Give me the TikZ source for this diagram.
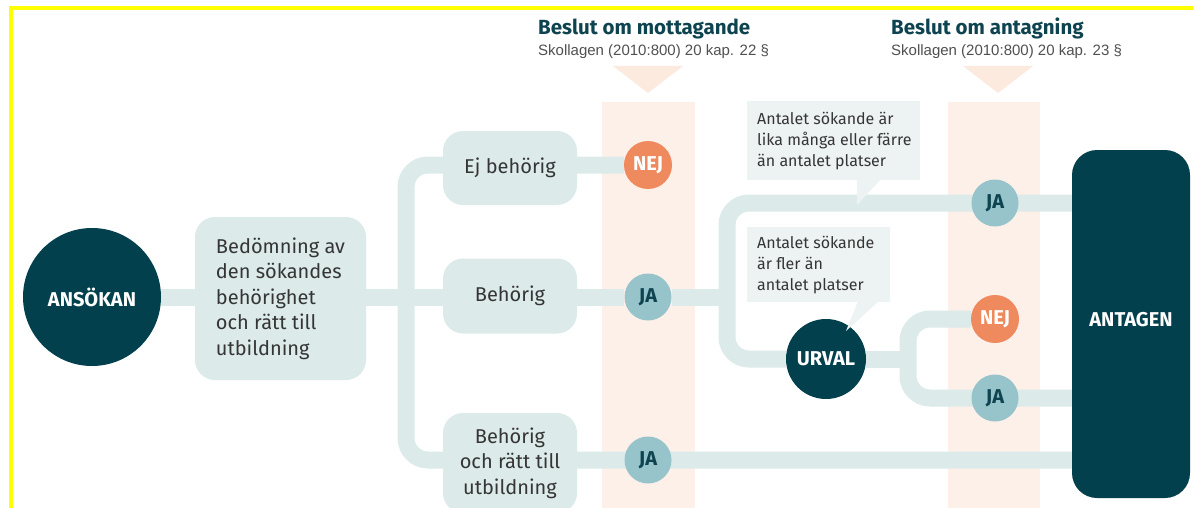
\documentclass[tikz,border=0pt]{standalone}
\usepackage{fontspec}
\setmainfont{Fira Sans}
\newfontfamily\subfont{Liberation Sans}
\usetikzlibrary{calc}
\pgfdeclarelayer{pinklayer}
\pgfdeclarelayer{linelayer}
\pgfsetlayers{pinklayer,linelayer,main}
\definecolor{dark}{HTML}{02404D}
\definecolor{lineblue}{HTML}{DCEAEA}
\definecolor{callout}{HTML}{EDF3F2}
\definecolor{pinkcol}{HTML}{FDF0E9}
\definecolor{pinktri}{HTML}{FCEADF}
\definecolor{nejc}{HTML}{EF8A5E}
\definecolor{jac}{HTML}{97C4CB}
\definecolor{txt}{HTML}{353535}
\definecolor{titlec}{HTML}{0E4350}
\definecolor{subc}{HTML}{505050}
\definecolor{border}{HTML}{FFFF00}
\tikzset{
  box/.style={fill=lineblue, rounded corners=20pt, text=txt, font=\fontsize{20}{25.5}\selectfont, align=center, inner sep=0pt},
  bedbox/.style={box, align=left},
  conn/.style={draw=lineblue, line width=17pt},
  loop/.style={conn, rounded corners=22pt},
  label/.style={circle, inner sep=0pt, font=\fontsize{20}{22}\selectfont\bfseries},
  nejnode/.style={label, fill=nejc, minimum size=48pt, text=white},
  janode/.style={label, fill=jac, minimum size=47pt, text=titlec},
  darknode/.style={label, fill=dark, text=white},
  callbox/.style={fill=callout, inner sep=0pt, anchor=north west},
  calltext/.style={text=txt, font=\fontsize{16}{21}\selectfont, align=left, inner sep=0pt, anchor=west},
  titlenode/.style={anchor=base west, inner sep=0pt, text=titlec, font=\fontsize{20.5}{22}\selectfont\bfseries},
  subnode/.style={anchor=base west, inner sep=0pt, text=subc, font=\subfont\fontsize{15}{16}\selectfont},
  column/.style={fill=pinkcol},
  marker/.style={fill=pinktri}
}
\begin{document}
\begin{tikzpicture}[x=1pt,y=-1pt]
\useasboundingbox (0,0) rectangle (1193,508);
\begin{pgfonlayer}{pinklayer}
  \fill[white] (0,0) rectangle (1193,508);
\end{pgfonlayer}

% titles
\node[titlenode] (t1) at (538,35) {Beslut om mottagande};
\node[subnode] (s1) at (538,56) {Skollagen (2010:800) 20 kap. 22 §};
\node[titlenode] (t2) at (891,35) {Beslut om antagning};
\node[subnode] (s2) at (891,56) {Skollagen (2010:800) 20 kap. 23 §};

% main nodes
\node[darknode, minimum size=138pt] (ans) at (92,297) {ANSÖKAN};
\node[bedbox, minimum width=171pt, minimum height=163pt] (bed) at (280.5,298.5) {Bedömning av\\den sökandes\\behörighet\\och rätt till\\utbildning};
\node[box, minimum width=134pt, minimum height=74pt] (ej) at (510,168) {Ej behörig};
\node[box, minimum width=134pt, minimum height=75pt] (beh) at (510,296) {Behörig};
\begin{scope}
\clip (0,0) rectangle (1193,508);
\node[box, minimum width=134pt, minimum height=100pt] (rat) at (510,463) {Behörig\\och rätt till\\utbildning};
\end{scope}

\node[nejnode] (nej1) at (648,165) {NEJ};
\node[janode] (ja2) at (648,297) {JA};
\node[janode] (ja3) at (648,460) {JA};
\node[janode] (ja4) at (995,203) {JA};
\node[nejnode] (nej2) at (995,319) {NEJ};
\node[janode] (ja5) at (995,398) {JA};

\node[darknode, minimum size=80pt] (urval) at (826,359) {URVAL};
\node[fill=dark, rounded corners=25pt, minimum width=118pt, minimum height=348pt, inner sep=0pt] (ant) at (1131,324) {};
\node[text=white, font=\fontsize{20}{22}\selectfont\bfseries, inner sep=0pt] (antl) at (1131,320) {ANTAGEN};

% callouts
\node[callbox, minimum width=173pt, minimum height=79pt] (c1) at (747,101) {};
\fill[callout] (857,179) -- (881,179) -- (857,205) -- cycle;
\node[calltext] (c1t) at ($(c1.west)+(10,0)$) {Antalet sökande är\\lika många eller färre\\än antalet platser};
\node[callbox, minimum width=143pt, minimum height=75pt] (c2) at (747,227) {};
\fill[callout] (858,301) -- (879,301) -- (846,331) -- cycle;
\node[calltext] (c2t) at ($(c2.west)+(10,0)$) {Antalet sökande\\är fler än\\antalet platser};

\coordinate (tr) at (406,297);
\coordinate (lx) at (727,297);
\coordinate (rx) at (908,359);

\begin{pgfonlayer}{pinklayer}
  \fill[column] (602,102) rectangle (695,508);
  \fill[column] (948,102) rectangle (1040,508);
  \fill[marker] (613,66) -- (683,66) -- (648,93) -- cycle;
  \fill[marker] (963,66) -- (1033,66) -- (998,93) -- cycle;
\end{pgfonlayer}

\begin{pgfonlayer}{linelayer}
  \draw[conn] (ans) -- (ja2);
  \draw[loop] (nej1) -| (tr) |- (ja3.center) -- (ja3 -| ant.west);
  \draw[conn] (ja2) -- (lx);
  \draw[loop] (urval) -| (lx) |- (ja4.center) -- (ja4 -| ant.west);
  \draw[conn] (urval) -- (rx);
  \draw[loop] (nej2) -| (rx) |- (ja5.center) -- (ja5 -| ant.west);
\end{pgfonlayer}

\begin{scope}
\clip (0,0) rectangle (1193,508);
\draw[border, line width=4pt] (10.5,510) -- (10.5,8.5) -- (1195,8.5);
\end{scope}
\end{tikzpicture}
\end{document}
